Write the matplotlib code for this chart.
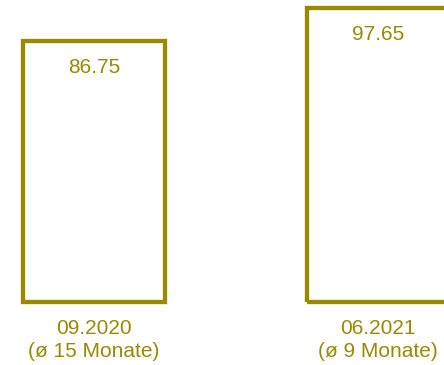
import matplotlib.pyplot as plt

# Values per reporting date
dates = ["09.2020", "06.2021"]
durations = ["(ø 15 Monate)", "(ø 9 Monate)"]
values = [86.75, 97.65]

olive = "#9A8A00"
plt.rcParams["font.family"] = ["Liberation Sans", "DejaVu Sans"]

fig = plt.figure(figsize=(4.44, 3.65), dpi=100)
ax = fig.add_axes([0, 63 / 365, 1, 302 / 365])

x = range(len(values))
bars = ax.bar(x, values, width=0.5, facecolor="none", edgecolor=olive,
              linewidth=3.1, clip_on=False)

for xi, v in zip(x, values):
    ax.annotate(f"{v:.2f}", (xi, v), xytext=(0, -19), textcoords="offset points",
                ha="center", va="center", color=olive, fontsize=15)

ax.set_xlim(-0.331, 1.2324)
ax.set_ylim(0, 100.3)
ax.set_xticks(list(x))
ax.set_xticklabels([f"{d}\n{m}" for d, m in zip(dates, durations)],
                   color=olive, fontsize=15, linespacing=1.31)
ax.tick_params(axis="x", length=0, pad=12)
ax.set_yticks([])
for s in ax.spines.values():
    s.set_visible(False)

fig.savefig("out.png", dpi=100)
